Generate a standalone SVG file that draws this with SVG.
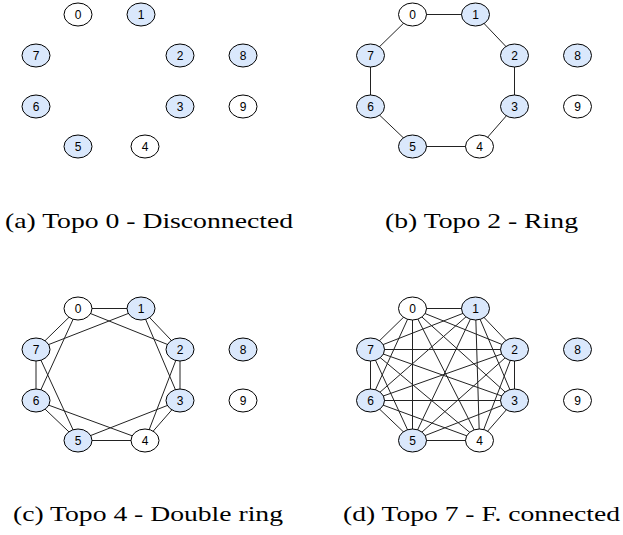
<svg xmlns="http://www.w3.org/2000/svg" width="623" height="535" viewBox="0 0 623 535">
<style>
.e{stroke:#222;stroke-width:1;fill:none}
.nb{fill:#dae8fc;stroke:#000;stroke-width:1}
.nw{fill:#fff;stroke:#000;stroke-width:1}
.t{font-family:"Liberation Sans",Arial,sans-serif;font-size:12px;text-anchor:middle;fill:#000}
.cap{font-family:"Liberation Serif","Times New Roman",Times,serif;font-size:21.5px;fill:#000}
</style>
<rect width="623" height="535" fill="#fff"/>

<!-- Panel a -->
<g id="panel-a">
<g id="a-connectors"></g>
<g id="a-n0"><ellipse class="nw" cx="78" cy="14.5" rx="14" ry="11.5"/><text class="t" x="78" y="18.8">0</text></g>
<g id="a-n1"><ellipse class="nb" cx="141" cy="14.5" rx="14" ry="11.5"/><text class="t" x="141" y="18.8">1</text></g>
<g id="a-n2"><ellipse class="nb" cx="180" cy="55.5" rx="14" ry="11.5"/><text class="t" x="180" y="59.8">2</text></g>
<g id="a-n3"><ellipse class="nb" cx="180" cy="106.5" rx="14" ry="11.5"/><text class="t" x="180" y="110.8">3</text></g>
<g id="a-n4"><ellipse class="nw" cx="145" cy="146.5" rx="14" ry="11.5"/><text class="t" x="145" y="150.8">4</text></g>
<g id="a-n5"><ellipse class="nb" cx="78" cy="146.5" rx="14" ry="11.5"/><text class="t" x="78" y="150.8">5</text></g>
<g id="a-n6"><ellipse class="nb" cx="36" cy="106.5" rx="14" ry="11.5"/><text class="t" x="36" y="110.8">6</text></g>
<g id="a-n7"><ellipse class="nb" cx="36" cy="55.5" rx="14" ry="11.5"/><text class="t" x="36" y="59.8">7</text></g>
<g id="a-n8"><ellipse class="nb" cx="243" cy="55.5" rx="14" ry="11.5"/><text class="t" x="243" y="59.8">8</text></g>
<g id="a-n9"><ellipse class="nw" cx="243" cy="106.5" rx="14" ry="11.5"/><text class="t" x="243" y="110.8">9</text></g>
</g>

<!-- Panel b -->
<g id="panel-b" transform="translate(334.5,0)">
<g id="b-connectors" class="e">
<line x1="78" y1="14.5" x2="141" y2="14.5"/>
<line x1="141" y1="14.5" x2="180" y2="55.5"/>
<line x1="180" y1="55.5" x2="180" y2="106.5"/>
<line x1="180" y1="106.5" x2="145" y2="146.5"/>
<line x1="145" y1="146.5" x2="78" y2="146.5"/>
<line x1="78" y1="146.5" x2="36" y2="106.5"/>
<line x1="36" y1="106.5" x2="36" y2="55.5"/>
<line x1="36" y1="55.5" x2="78" y2="14.5"/>
</g>
<g id="b-n0"><ellipse class="nw" cx="78" cy="14.5" rx="14" ry="11.5"/><text class="t" x="78" y="18.8">0</text></g>
<g id="b-n1"><ellipse class="nb" cx="141" cy="14.5" rx="14" ry="11.5"/><text class="t" x="141" y="18.8">1</text></g>
<g id="b-n2"><ellipse class="nb" cx="180" cy="55.5" rx="14" ry="11.5"/><text class="t" x="180" y="59.8">2</text></g>
<g id="b-n3"><ellipse class="nb" cx="180" cy="106.5" rx="14" ry="11.5"/><text class="t" x="180" y="110.8">3</text></g>
<g id="b-n4"><ellipse class="nw" cx="145" cy="146.5" rx="14" ry="11.5"/><text class="t" x="145" y="150.8">4</text></g>
<g id="b-n5"><ellipse class="nb" cx="78" cy="146.5" rx="14" ry="11.5"/><text class="t" x="78" y="150.8">5</text></g>
<g id="b-n6"><ellipse class="nb" cx="36" cy="106.5" rx="14" ry="11.5"/><text class="t" x="36" y="110.8">6</text></g>
<g id="b-n7"><ellipse class="nb" cx="36" cy="55.5" rx="14" ry="11.5"/><text class="t" x="36" y="59.8">7</text></g>
<g id="b-n8"><ellipse class="nb" cx="243" cy="55.5" rx="14" ry="11.5"/><text class="t" x="243" y="59.8">8</text></g>
<g id="b-n9"><ellipse class="nw" cx="243" cy="106.5" rx="14" ry="11.5"/><text class="t" x="243" y="110.8">9</text></g>
</g>

<!-- Panel c -->
<g id="panel-c" transform="translate(0,294)">
<g id="c-connectors" class="e">
<line x1="78" y1="14.5" x2="141" y2="14.5"/>
<line x1="141" y1="14.5" x2="180" y2="55.5"/>
<line x1="180" y1="55.5" x2="180" y2="106.5"/>
<line x1="180" y1="106.5" x2="145" y2="146.5"/>
<line x1="145" y1="146.5" x2="78" y2="146.5"/>
<line x1="78" y1="146.5" x2="36" y2="106.5"/>
<line x1="36" y1="106.5" x2="36" y2="55.5"/>
<line x1="36" y1="55.5" x2="78" y2="14.5"/>
<line x1="78" y1="14.5" x2="180" y2="55.5"/>
<line x1="141" y1="14.5" x2="180" y2="106.5"/>
<line x1="180" y1="55.5" x2="145" y2="146.5"/>
<line x1="180" y1="106.5" x2="78" y2="146.5"/>
<line x1="145" y1="146.5" x2="36" y2="106.5"/>
<line x1="78" y1="146.5" x2="36" y2="55.5"/>
<line x1="36" y1="106.5" x2="78" y2="14.5"/>
<line x1="36" y1="55.5" x2="141" y2="14.5"/>
</g>
<g id="c-n0"><ellipse class="nw" cx="78" cy="14.5" rx="14" ry="11.5"/><text class="t" x="78" y="18.8">0</text></g>
<g id="c-n1"><ellipse class="nb" cx="141" cy="14.5" rx="14" ry="11.5"/><text class="t" x="141" y="18.8">1</text></g>
<g id="c-n2"><ellipse class="nb" cx="180" cy="55.5" rx="14" ry="11.5"/><text class="t" x="180" y="59.8">2</text></g>
<g id="c-n3"><ellipse class="nb" cx="180" cy="106.5" rx="14" ry="11.5"/><text class="t" x="180" y="110.8">3</text></g>
<g id="c-n4"><ellipse class="nw" cx="145" cy="146.5" rx="14" ry="11.5"/><text class="t" x="145" y="150.8">4</text></g>
<g id="c-n5"><ellipse class="nb" cx="78" cy="146.5" rx="14" ry="11.5"/><text class="t" x="78" y="150.8">5</text></g>
<g id="c-n6"><ellipse class="nb" cx="36" cy="106.5" rx="14" ry="11.5"/><text class="t" x="36" y="110.8">6</text></g>
<g id="c-n7"><ellipse class="nb" cx="36" cy="55.5" rx="14" ry="11.5"/><text class="t" x="36" y="59.8">7</text></g>
<g id="c-n8"><ellipse class="nb" cx="243" cy="55.5" rx="14" ry="11.5"/><text class="t" x="243" y="59.8">8</text></g>
<g id="c-n9"><ellipse class="nw" cx="243" cy="106.5" rx="14" ry="11.5"/><text class="t" x="243" y="110.8">9</text></g>
</g>

<!-- Panel d -->
<g id="panel-d" transform="translate(334.5,294)">
<g id="d-connectors" class="e">
<line x1="78" y1="14.5" x2="141" y2="14.5"/>
<line x1="78" y1="14.5" x2="180" y2="55.5"/>
<line x1="78" y1="14.5" x2="180" y2="106.5"/>
<line x1="78" y1="14.5" x2="145" y2="146.5"/>
<line x1="78" y1="14.5" x2="78" y2="146.5"/>
<line x1="78" y1="14.5" x2="36" y2="106.5"/>
<line x1="78" y1="14.5" x2="36" y2="55.5"/>
<line x1="141" y1="14.5" x2="180" y2="55.5"/>
<line x1="141" y1="14.5" x2="180" y2="106.5"/>
<line x1="141" y1="14.5" x2="145" y2="146.5"/>
<line x1="141" y1="14.5" x2="78" y2="146.5"/>
<line x1="141" y1="14.5" x2="36" y2="106.5"/>
<line x1="141" y1="14.5" x2="36" y2="55.5"/>
<line x1="180" y1="55.5" x2="180" y2="106.5"/>
<line x1="180" y1="55.5" x2="145" y2="146.5"/>
<line x1="180" y1="55.5" x2="78" y2="146.5"/>
<line x1="180" y1="55.5" x2="36" y2="106.5"/>
<line x1="180" y1="55.5" x2="36" y2="55.5"/>
<line x1="180" y1="106.5" x2="145" y2="146.5"/>
<line x1="180" y1="106.5" x2="78" y2="146.5"/>
<line x1="180" y1="106.5" x2="36" y2="106.5"/>
<line x1="180" y1="106.5" x2="36" y2="55.5"/>
<line x1="145" y1="146.5" x2="78" y2="146.5"/>
<line x1="145" y1="146.5" x2="36" y2="106.5"/>
<line x1="145" y1="146.5" x2="36" y2="55.5"/>
<line x1="78" y1="146.5" x2="36" y2="106.5"/>
<line x1="78" y1="146.5" x2="36" y2="55.5"/>
<line x1="36" y1="106.5" x2="36" y2="55.5"/>
</g>
<g id="d-n0"><ellipse class="nw" cx="78" cy="14.5" rx="14" ry="11.5"/><text class="t" x="78" y="18.8">0</text></g>
<g id="d-n1"><ellipse class="nb" cx="141" cy="14.5" rx="14" ry="11.5"/><text class="t" x="141" y="18.8">1</text></g>
<g id="d-n2"><ellipse class="nb" cx="180" cy="55.5" rx="14" ry="11.5"/><text class="t" x="180" y="59.8">2</text></g>
<g id="d-n3"><ellipse class="nb" cx="180" cy="106.5" rx="14" ry="11.5"/><text class="t" x="180" y="110.8">3</text></g>
<g id="d-n4"><ellipse class="nw" cx="145" cy="146.5" rx="14" ry="11.5"/><text class="t" x="145" y="150.8">4</text></g>
<g id="d-n5"><ellipse class="nb" cx="78" cy="146.5" rx="14" ry="11.5"/><text class="t" x="78" y="150.8">5</text></g>
<g id="d-n6"><ellipse class="nb" cx="36" cy="106.5" rx="14" ry="11.5"/><text class="t" x="36" y="110.8">6</text></g>
<g id="d-n7"><ellipse class="nb" cx="36" cy="55.5" rx="14" ry="11.5"/><text class="t" x="36" y="59.8">7</text></g>
<g id="d-n8"><ellipse class="nb" cx="243" cy="55.5" rx="14" ry="11.5"/><text class="t" x="243" y="59.8">8</text></g>
<g id="d-n9"><ellipse class="nw" cx="243" cy="106.5" rx="14" ry="11.5"/><text class="t" x="243" y="110.8">9</text></g>
</g>

<!-- Captions -->
<g id="captions">
<text class="cap" x="5" y="228" textLength="288" lengthAdjust="spacingAndGlyphs">(a) Topo 0 - Disconnected</text>
<text class="cap" x="385" y="228" textLength="193" lengthAdjust="spacingAndGlyphs">(b) Topo 2 - Ring</text>
<text class="cap" x="13" y="521" textLength="270" lengthAdjust="spacingAndGlyphs">(c) Topo 4 - Double ring</text>
<text class="cap" x="343" y="521" textLength="277" lengthAdjust="spacingAndGlyphs">(d) Topo 7 - F. connected</text>
</g>
</svg>
